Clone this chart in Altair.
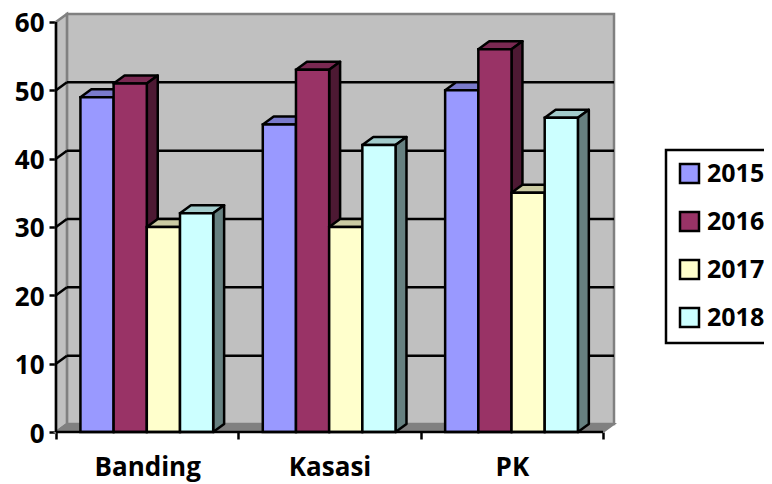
import altair as alt
import pandas as pd

categories = ["Banding", "Kasasi", "PK"]
years = ["2015", "2016", "2017", "2018"]
values = {
    "2015": [49, 45, 50],
    "2016": [51, 53, 56],
    "2017": [30, 30, 35],
    "2018": [32, 42, 46],
}
front_colors = ["#9999FF", "#993366", "#FFFFCC", "#CCFFFF"]
top_colors = ["#7A7ACC", "#7A2952", "#CCCCA3", "#A3CCCC"]
side_colors = ["#4D4D80", "#4D1933", "#808066", "#668080"]

FONT = "Open Sans"
FS = 26
SW = 2.5
DX = 0.06      # depth of the 3-D box, in category units
DY = 1.17      # depth of the 3-D box, in value units
BAR = 0.182
START = 0.134
XMAX = 3 + DX
YMAX = 60 + DY

xs = alt.Scale(domain=[0, XMAX], nice=False, zero=False)
ys = alt.Scale(domain=[0, YMAX], nice=False, zero=False)
X = lambda f="x", **k: alt.X(f"{f}:Q", scale=xs, **k)
Y = lambda f="y", **k: alt.Y(f"{f}:Q", scale=ys, **k)

label_map = {0.5: categories[0], 1.5: categories[1], 2.5: categories[2]}
label_expr = " : ".join(f"datum.value == {k} ? '{v}'" for k, v in label_map.items()) + " : ''"

x_axis = alt.Axis(
    title=None, values=[0, 0.5, 1, 1.5, 2, 2.5, 3], labelExpr=label_expr, labelOverlap=False,
    grid=False, domain=False, tickColor="black", tickWidth=SW, tickSize=7,
    tickOpacity={"condition": {"test": "datum.value % 1 == 0", "value": 1}, "value": 0},
    labelFont=FONT, labelFontSize=FS, labelFontWeight="bold", labelColor="black",
    labelPadding=15, labelAngle=0, labelFlush=False,
)
y_axis = alt.Axis(
    title=None, values=[0, 10, 20, 30, 40, 50, 60], grid=False, domain=False,
    tickColor="black", tickWidth=SW, tickSize=7,
    labelFont=FONT, labelFontSize=FS, labelFontWeight="bold", labelColor="black", labelPadding=5,
    labelOffset=2,
)

# walls and floor
back = alt.Chart(pd.DataFrame([{"x": DX, "x2": XMAX, "y": DY, "y2": YMAX}])).mark_rect(
    fill="#C0C0C0", stroke="#808080", strokeWidth=2.5, clip=False
).encode(x=X(axis=x_axis), x2="x2:Q", y=Y(axis=y_axis), y2="y2:Q")

left_wall = alt.Chart(pd.DataFrame([{"x": 0, "y": 0, "y2": 60}, {"x": DX, "y": DY, "y2": YMAX}])).mark_area(
    fill="#C0C0C0", stroke="#808080", strokeWidth=2.5
).encode(x=X(), y=Y(), y2="y2:Q")

floor = alt.Chart(pd.DataFrame([{"y": 0, "x": 0, "x2": 3}, {"y": DY, "x": DX, "x2": XMAX}])).mark_area(
    orient="horizontal", fill="#808080", stroke="#808080", strokeWidth=2
).encode(y=Y(), x=X(), x2="x2:Q")

grid_values = [10, 20, 30, 40, 50]
grid = alt.Chart(pd.DataFrame([{"x": DX, "x2": XMAX, "y": v + DY} for v in grid_values])).mark_rule(
    color="black", strokeWidth=SW
).encode(x=X(), x2="x2:Q", y=Y())
diag = alt.Chart(pd.DataFrame([{"x": 0, "x2": DX, "y": v, "y2": v + DY} for v in grid_values])).mark_rule(
    color="black", strokeWidth=SW
).encode(x=X(), x2="x2:Q", y=Y(), y2="y2:Q")
x_line = alt.Chart(pd.DataFrame([{"x": 0, "x2": 3, "y": 0}])).mark_rule(
    color="black", strokeWidth=SW
).encode(x=X(), x2="x2:Q", y=Y())
y_line = alt.Chart(pd.DataFrame([{"x": 0, "y": 0, "y2": 60}])).mark_rule(
    color="black", strokeWidth=SW
).encode(x=X(), y=Y(), y2="y2:Q")

layers = [back, left_wall, floor, grid, diag, y_line]

color_scale = alt.Scale(domain=years, range=front_colors)
legend = alt.Legend(
    title=None, orient="none", legendX=610, legendY=136, symbolType="square", symbolSize=361,
    symbolStrokeColor="black", symbolStrokeWidth=SW, symbolOpacity=1,
    labelFont=FONT, labelFontSize=25, labelFontWeight="bold", labelColor="black",
    fillColor="white", strokeColor="black", padding=11, rowPadding=19, labelOffset=5,
    symbolOffset=0,
)

for si, yr in enumerate(years):
    tops, sides, fronts = [], [], []
    for ci, cat in enumerate(categories):
        v = values[yr][ci]
        x0 = ci + START + si * BAR
        x1 = x0 + BAR
        tops += [{"cat": cat, "y": v, "x": x0, "x2": x1}, {"cat": cat, "y": v + DY, "x": x0 + DX, "x2": x1 + DX}]
        sides += [{"cat": cat, "x": x1, "y": 0, "y2": v}, {"cat": cat, "x": x1 + DX, "y": DY, "y2": v + DY}]
        fronts.append({"cat": cat, "year": yr, "x": x0, "x2": x1, "y": 0, "y2": v})
    layers.append(alt.Chart(pd.DataFrame(tops)).mark_area(
        orient="horizontal", fill=top_colors[si], stroke="black", strokeWidth=SW, strokeJoin="round"
    ).encode(y=Y(), x=X(), x2="x2:Q", detail="cat:N"))
    layers.append(alt.Chart(pd.DataFrame(sides)).mark_area(
        fill=side_colors[si], stroke="black", strokeWidth=SW, strokeJoin="round"
    ).encode(x=X(), y=Y(), y2="y2:Q", detail="cat:N"))
    layers.append(alt.Chart(pd.DataFrame(fronts)).mark_rect(
        stroke="black", strokeWidth=SW
    ).encode(x=X(), x2="x2:Q", y=Y(), y2="y2:Q",
             color=alt.Color("year:N", scale=color_scale, legend=legend)))

layers.append(x_line)

chart = alt.layer(*layers).properties(
    width=558, height=418,
    padding={"left": 48, "top": 6, "right": 150, "bottom": 52},
    autosize=alt.AutoSizeParams(type="none"),
    background="white",
).configure_view(stroke=None).configure_legend(strokeWidth=SW)

chart.save("out.html", embed_options={"renderer": "svg", "actions": False})
